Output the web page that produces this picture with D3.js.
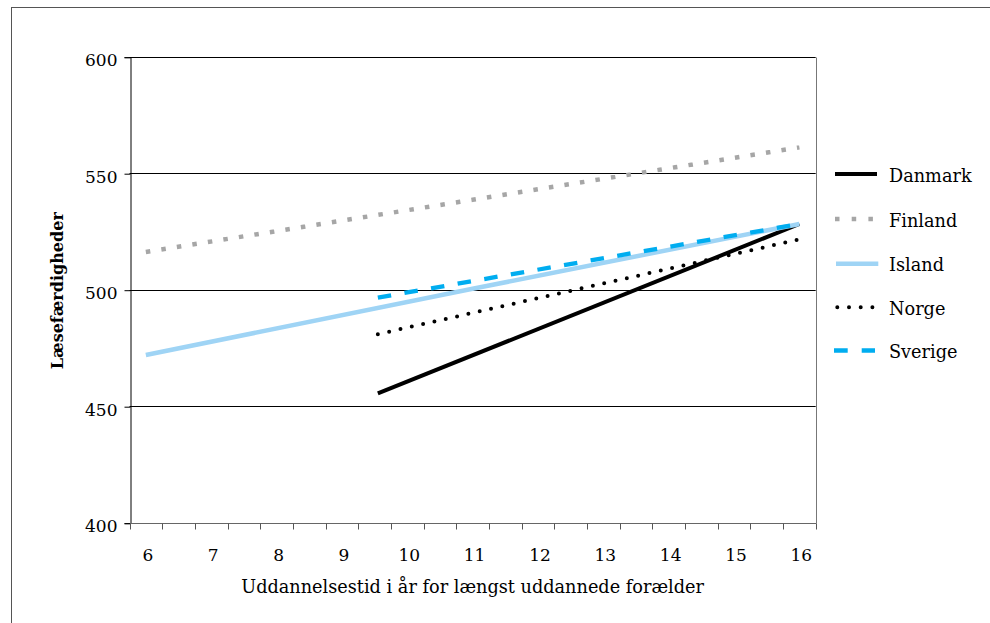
<!DOCTYPE html>
<html><head><meta charset="utf-8">
<script src="https://cdn.jsdelivr.net/npm/d3@7"></script>
<style>
html,body{margin:0;padding:0;background:#fff;}
svg{display:block;}
text{font-family:"DejaVu Serif","Liberation Serif",serif;fill:#000;}
</style></head>
<body>
<svg id="chart" width="990" height="623"></svg>
<script>
// ---- data ----
const xLabels = [6, 7, 8, 9, 10, 11, 12, 13, 14, 15, 16];
const yTicks = [400, 450, 500, 550, 600];
const seriesNames = ["Danmark", "Finland", "Island", "Norge", "Sverige"];
const danmark = [[9.55, 455.5], [16, 528.2]];
const finland = [[6, 516.2], [11, 538.6], [16, 561.1]];
const island = [[6, 472.0], [11, 500.4], [16, 528.2]];
const norge = [[9.55, 480.9], [16, 521.6]];
const sverige = [[9.55, 496.6], [16, 528.2]];
const xTitle = "Uddannelsestid i år for længst uddannede forælder";
const yTitle = "Læsefærdigheder";

// ---- styles ----
const styles = {
  Danmark: {color: "#000000", width: 4, dash: null, cap: "butt"},
  Finland: {color: "#a6a6a6", width: 4.5, dash: "4.5,11.2", cap: "butt"},
  Island:  {color: "#9fd4f5", width: 4.5, dash: null, cap: "butt"},
  Norge:   {color: "#000000", width: 4, dash: "0,11.6", cap: "round"},
  Sverige: {color: "#00adf0", width: 4.3, dash: "13.5,13.5", cap: "butt"}
};
const seriesData = {Danmark: danmark, Finland: finland, Island: island, Norge: norge, Sverige: sverige};

const svg = d3.select("#chart");
const m = {left: 129.5, right: 815.7, top: 56.7, bottom: 522.7};

const x = d3.scaleLinear().domain([5.75, 16.25]).range([m.left, m.right]);
const y = d3.scaleLinear().domain([400, 600]).range([m.bottom, m.top]);

// outer frame (cut by the window on right and bottom)
svg.append("rect").attr("x", 11.5).attr("y", 7.5).attr("width", 1100).attr("height", 800)
  .attr("fill", "none").attr("stroke", "#555").attr("stroke-width", 1);

// gridlines
svg.append("g").selectAll("line").data(yTicks.filter(d => d > 400)).join("line")
  .attr("x1", m.left).attr("x2", m.right)
  .attr("y1", d => Math.round(y(d)) + 0.5).attr("y2", d => Math.round(y(d)) + 0.5)
  .attr("stroke", "#000").attr("stroke-width", 1);

// right border of plot area
svg.append("line").attr("x1", Math.round(m.right) + 0.5).attr("x2", Math.round(m.right) + 0.5)
  .attr("y1", Math.round(m.top) + 0.5).attr("y2", Math.round(m.bottom) + 0.5)
  .attr("stroke", "#777").attr("stroke-width", 1);

// y axis
const yAxis = d3.axisLeft(y).tickValues(yTicks).tickSize(6).tickPadding(7).tickFormat(d3.format("d"));
const gy = svg.append("g").attr("transform", `translate(${Math.round(m.left) + 0.5},0.5)`).call(yAxis);
gy.attr("font-family", null).attr("font-size", null);
gy.select(".domain").attr("stroke", "#000");
gy.selectAll(".tick line").attr("stroke", "#000");
gy.selectAll(".tick text").attr("font-size", 17).attr("dy", null).attr("y", 8.5).attr("fill", "#000");

// x axis: tick marks every half unit between categories, labels at integers
const tickPos = d3.range(0, 22).map(i => 5.75 + i * 0.5);
const gx = svg.append("g").attr("transform", `translate(0.5,${Math.round(m.bottom) + 0.5})`);
gx.append("line").attr("x1", m.left).attr("x2", m.right).attr("stroke", "#666");
gx.selectAll("line.t").data(tickPos).join("line").attr("class", "t")
  .attr("x1", d => Math.round(x(d))).attr("x2", d => Math.round(x(d)))
  .attr("y1", 0).attr("y2", 6).attr("stroke", "#555");
gx.selectAll("text").data(xLabels).join("text")
  .attr("x", d => x(d) + 1.5).attr("y", 37).attr("text-anchor", "middle")
  .attr("font-size", 17).text(d => d);

// axis titles
svg.append("text").attr("x", (m.left + m.right) / 2).attr("y", 593)
  .attr("text-anchor", "middle").attr("font-size", 17.7).text(xTitle);
svg.append("text").attr("transform", `translate(63,${(m.top + m.bottom) / 2 + 1}) rotate(-90)`)
  .attr("text-anchor", "middle").attr("font-size", 16).attr("font-weight", "bold").text(yTitle);

// series lines
const line = d3.line().x(d => x(d[0])).y(d => y(d[1])).curve(d3.curveMonotoneX);
const gl = svg.append("g");
seriesNames.forEach(name => {
  const s = styles[name];
  gl.append("path").datum(seriesData[name]).attr("d", line)
    .attr("fill", "none").attr("stroke", s.color).attr("stroke-width", s.width)
    .attr("stroke-dasharray", s.dash).attr("stroke-linecap", s.cap);
});

// legend
const legY = [174, 219, 263.7, 307.3, 350.5];
const legX1 = {Danmark: 835, Finland: 835, Island: 836, Norge: 837.3, Sverige: 834};
const legX2 = {Danmark: 877, Finland: 876, Island: 878.3, Norge: 874, Sverige: 875};
const legDash = {Finland: "4.5,12.2", Norge: "0,11.7", Sverige: "13.7,14"};
const lg = svg.append("g");
seriesNames.forEach((name, i) => {
  const s = styles[name];
  lg.append("line").attr("x1", legX1[name]).attr("x2", legX2[name])
    .attr("y1", legY[i]).attr("y2", legY[i])
    .attr("stroke", s.color).attr("stroke-width", s.width)
    .attr("stroke-dasharray", legDash[name] || null).attr("stroke-linecap", s.cap);
  lg.append("text").attr("x", 889).attr("y", legY[i] + 7.5)
    .attr("font-size", 17.7).text(name);
});
</script>
</body></html>
